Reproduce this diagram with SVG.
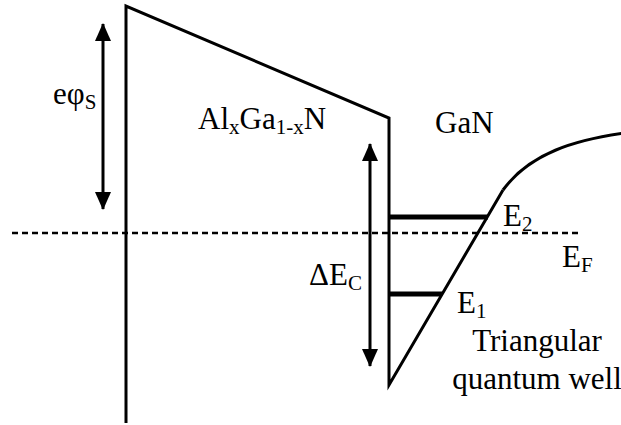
<svg xmlns="http://www.w3.org/2000/svg" width="621" height="425" viewBox="0 0 621 425">
<style>
.ln{stroke:#000;stroke-width:3;fill:none;stroke-linejoin:miter}
.lvl{stroke:#000;stroke-width:5;fill:none}
.dash{stroke:#000;stroke-width:2.5;stroke-dasharray:6,4;fill:none}
.arr{stroke:#000;stroke-width:3;fill:none;marker-start:url(#ah);marker-end:url(#ah)}
.t{font-family:'Liberation Serif','Times New Roman',Times,serif;font-size:31px;fill:#000}
.sub{font-size:21px}
</style>
<defs>
<marker id="ah" markerUnits="userSpaceOnUse" viewBox="0 0 18 16" refX="17" refY="8" markerWidth="18" markerHeight="16" orient="auto-start-reverse">
<path d="M0,0 L18,8 L0,16 Z" fill="#000"/>
</marker>
</defs>
<g id="connectors">
<line class="dash" x1="12" y1="233" x2="580" y2="233"/>
<line id="arrow-phi" class="arr" x1="103" y1="24" x2="103" y2="209"/>
<line id="arrow-dEc" class="arr" x1="370" y1="144" x2="370" y2="366"/>
</g>
<g id="band">
<polyline class="ln" points="126,423 126,6 389,118 389,385 503,190"/>
<path class="ln" d="M503,190 C530,153 575,140 625,133"/>
</g>
<g id="levels">
<line class="lvl" x1="389" y1="217" x2="488" y2="217"/>
<line class="lvl" x1="389" y1="294" x2="442" y2="294"/>
</g>
<g id="labels" class="t">
<text x="53" y="104">eφ<tspan class="sub" dy="5">S</tspan></text>
<text x="198" y="129">Al<tspan class="sub" dy="5">x</tspan><tspan dy="-5">Ga</tspan><tspan class="sub" dy="5">1-x</tspan><tspan dy="-5">N</tspan></text>
<text x="435" y="133">GaN</text>
<text x="503" y="226">E<tspan class="sub" dy="5">2</tspan></text>
<text x="562" y="267">E<tspan class="sub" dy="5">F</tspan></text>
<text x="309" y="285">ΔE<tspan class="sub" dy="5">C</tspan></text>
<text x="457" y="313">E<tspan class="sub" dy="5">1</tspan></text>
<text x="537" y="351" text-anchor="middle">Triangular</text>
<text x="537" y="389" text-anchor="middle">quantum well</text>
</g>
</svg>
